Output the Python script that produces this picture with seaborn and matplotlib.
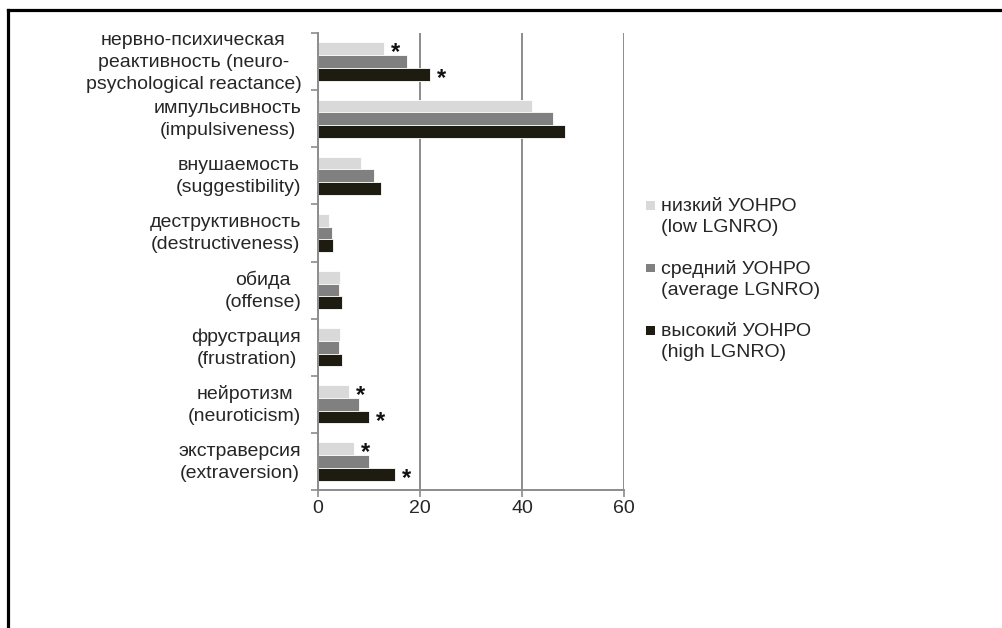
import matplotlib
matplotlib.use("Agg")
import matplotlib.pyplot as plt
import matplotlib.transforms as mtransforms
import seaborn as sns
import pandas as pd
from matplotlib.lines import Line2D
from matplotlib.patches import Rectangle
from matplotlib.legend_handler import HandlerBase

categories = [
    "нервно-психическая\nреактивность (neuro-\npsychological reactance)",
    "импульсивность\n(impulsiveness)",
    "внушаемость\n(suggestibility)",
    "деструктивность\n(destructiveness)",
    "обида\n(offense)",
    "фрустрация\n(frustration)",
    "нейротизм\n(neuroticism)",
    "экстраверсия\n(extraversion)",
]
series_names = ["низкий УОНРО\n(low LGNRO)", "средний УОНРО\n(average LGNRO)", "высокий УОНРО\n(high LGNRO)"]
low_vals = [13.0, 42.0, 8.5, 2.2, 4.3, 4.3, 6.0, 7.0]
avg_vals = [17.5, 46.0, 11.0, 2.7, 4.1, 4.1, 8.0, 10.0]
high_vals = [22.0, 48.5, 12.4, 3.0, 4.7, 4.7, 10.0, 15.0]
# significance markers (1 = asterisk) per series
low_star = [1, 0, 0, 0, 0, 0, 1, 1]
avg_star = [0, 0, 0, 0, 0, 0, 0, 0]
high_star = [1, 0, 0, 0, 0, 0, 1, 1]
x_ticks = [0, 20, 40, 60]
colors = ["#d9d9d9", "#808080", "#1e1b10"]

sns.set_theme(style="white")
plt.rcParams["font.family"] = ["Liberation Sans", "DejaVu Sans"]

rows = []
for s, vals in zip(series_names, [low_vals, avg_vals, high_vals]):
    for c, v in zip(categories, vals):
        rows.append({"category": c, "series": s, "value": v})
df = pd.DataFrame(rows)

fig = plt.figure(figsize=(10.03, 6.28), dpi=100)
ax = fig.add_axes([318 / 1003, 1 - 490 / 628, (624 - 318) / 1003, (490 - 33) / 628])

sns.barplot(data=df, y="category", x="value", hue="series", order=categories,
            hue_order=series_names, palette=colors, orient="h", width=0.67,
            edgecolor="white", linewidth=0.6, ax=ax, errorbar=None, saturation=1)

ax.set_xlim(0, 60)
ax.set_xticks(x_ticks)
ax.set_xlabel("")
ax.set_ylabel("")
ax.set_ylim(len(categories) - 0.5, -0.5)

grid_c = "#8c8c8c"
ax.xaxis.grid(True, color=grid_c, linewidth=1.4)
ax.set_axisbelow(True)
for side in ["top", "right"]:
    ax.spines[side].set_visible(False)
for side in ["left", "bottom"]:
    ax.spines[side].set_color(grid_c)
    ax.spines[side].set_linewidth(1.4)

fs = 14
ax.tick_params(axis="x", which="major", direction="out", length=5, width=1.2, color=grid_c,
               labelsize=fs, pad=2, bottom=True)
ax.tick_params(axis="y", which="major", length=0, labelsize=fs, pad=12, left=False)
ax.set_yticks([i + 0.5 for i in range(-1, len(categories))], minor=True)
ax.tick_params(axis="y", which="minor", direction="out", length=5, width=1.2, color=grid_c, left=True)
shift_up = mtransforms.ScaledTranslation(0, 3.5 / 100, fig.dpi_scale_trans)
for tick in ax.yaxis.get_major_ticks():
    lbl = tick.label1
    lbl.set_multialignment("center")
    lbl.set_linespacing(1.38)
    lbl.set_transform(lbl.get_transform() + shift_up)

# asterisks
for cont, stars in zip(ax.containers, [low_star, avg_star, high_star]):
    for patch, st in zip(cont.patches, stars):
        if st:
            yc = patch.get_y() + patch.get_height() / 2
            ax.annotate("*", xy=(patch.get_width(), yc), xytext=(5, -3),
                        textcoords="offset points", ha="left", va="center",
                        fontsize=17, fontweight="bold", color="#111111")


class TopSquare(HandlerBase):
    def create_artists(self, legend, orig_handle, xdescent, ydescent, width, height, fontsize, trans):
        s = 0.45 * fontsize
        r = Rectangle((-xdescent, -ydescent + height - s - 0.12 * fontsize), s, s,
                      facecolor=orig_handle.get_facecolor(), edgecolor="none", transform=trans)
        return [r]


handles, labels = ax.get_legend_handles_labels()
ax.get_legend().remove()
leg = ax.legend(handles, labels, loc="upper left", bbox_to_anchor=(646 / 1003, 1 - 198 / 628),
                bbox_transform=fig.transFigure, frameon=False, fontsize=fs,
                handlelength=0.45, handleheight=2.6, handletextpad=0.3, labelspacing=1.2,
                borderaxespad=0, borderpad=0,
                handler_map={Rectangle: TopSquare()})
for t in leg.get_texts():
    t.set_linespacing(1.33)

# outer frame
fig.add_artist(Line2D([8.5 / 1003, 8.5 / 1003], [0, 1 - 9.5 / 628], transform=fig.transFigure,
                      color="black", linewidth=2.3, solid_capstyle="projecting"))
fig.add_artist(Line2D([8.5 / 1003, 1], [1 - 9.5 / 628, 1 - 9.5 / 628], transform=fig.transFigure,
                      color="black", linewidth=2.3, solid_capstyle="projecting"))

fig.savefig("out.png", dpi=100)
